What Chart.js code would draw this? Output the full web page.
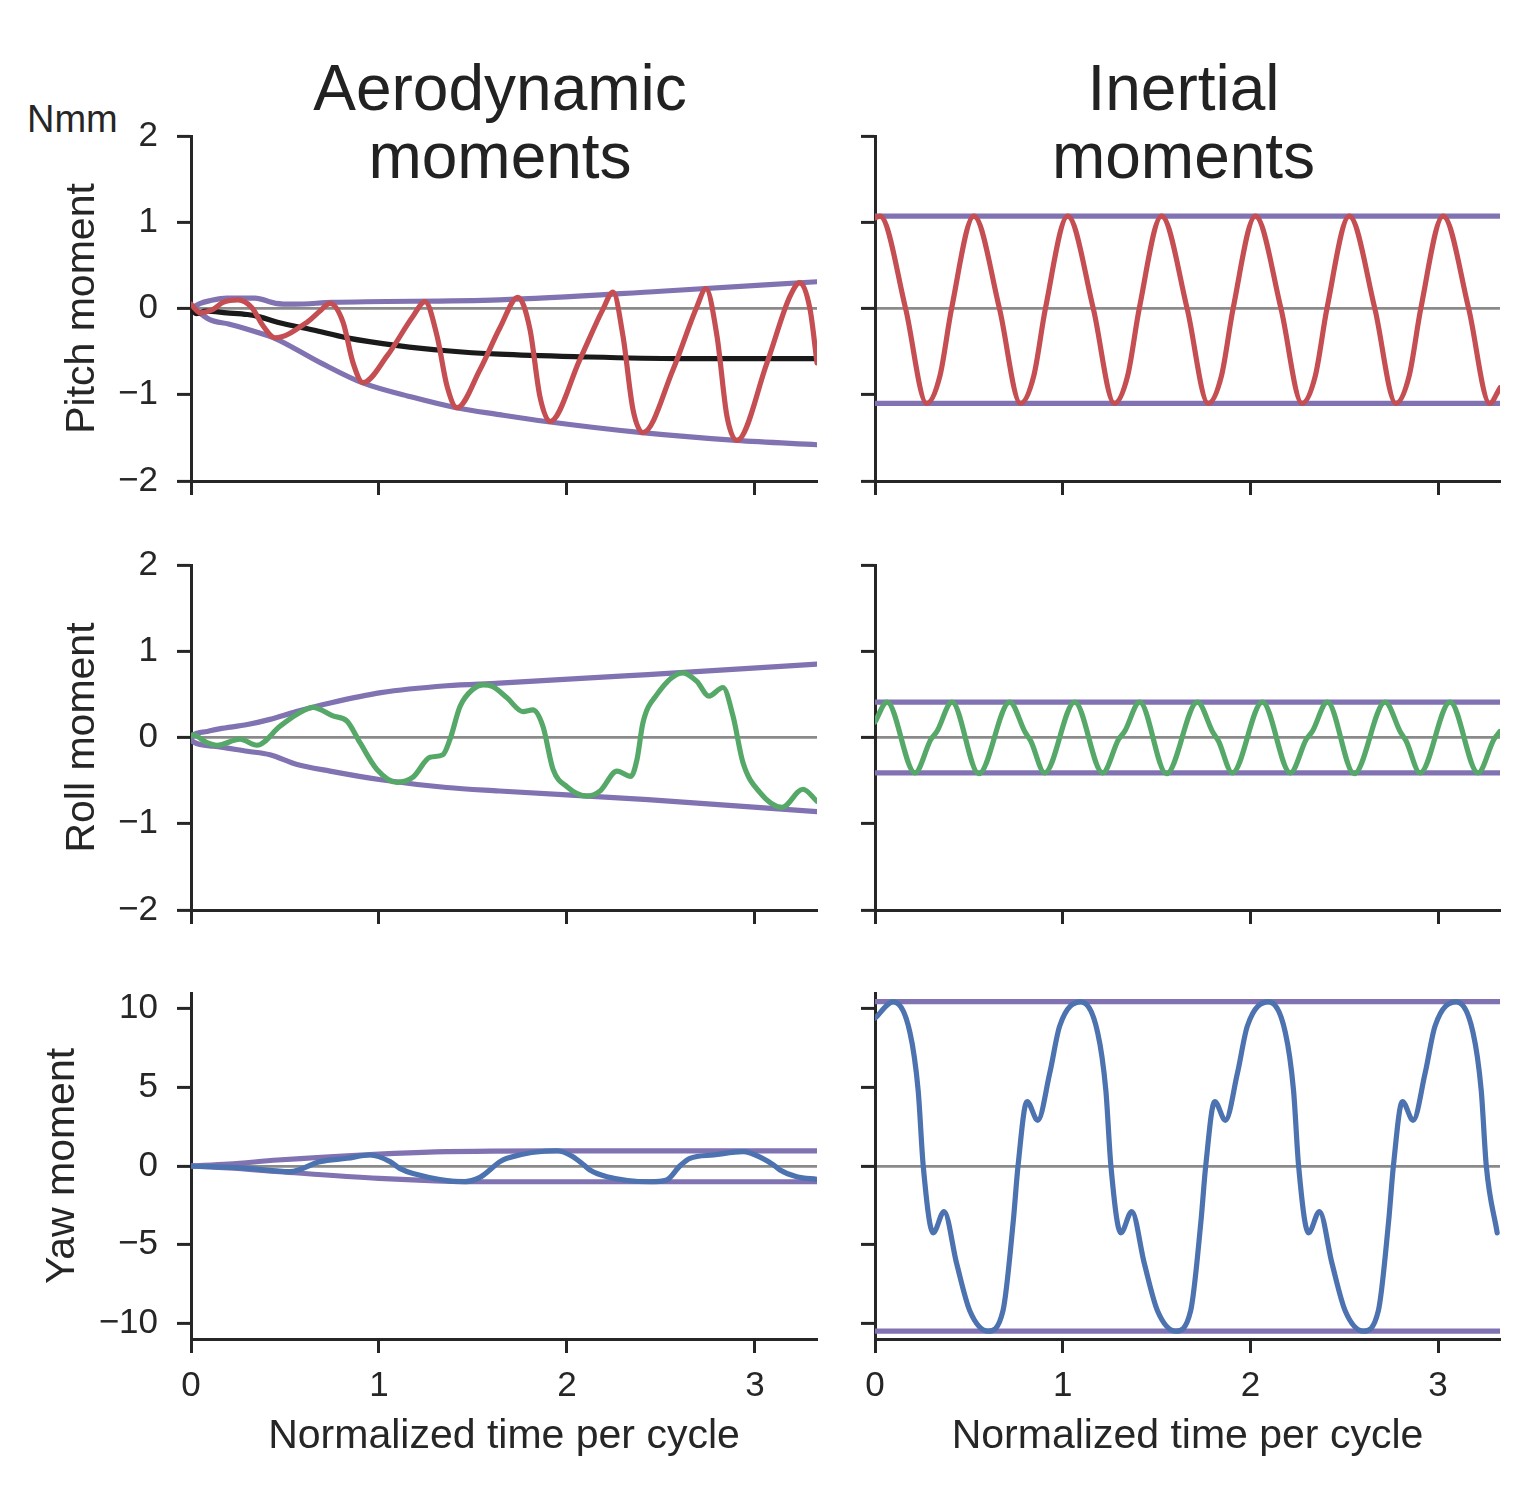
<!DOCTYPE html>
<html><head><meta charset="utf-8">
<script src="https://cdn.jsdelivr.net/npm/chart.js@4.4.1/dist/chart.umd.min.js"></script>
<style>
body{margin:0;background:#fff;width:1522px;height:1488px;position:relative;overflow:hidden;font-family:"Liberation Sans",Arial,sans-serif;color:#222}
canvas{position:absolute}
.ttl{position:absolute;text-align:center;font-size:64px;line-height:68px;white-space:nowrap}
</style></head><body>
<div class="ttl" style="left:187px;width:626px;top:54px">Aerodynamic<br>moments</div>
<div class="ttl" style="left:871px;width:625px;top:54px">Inertial<br>moments</div>
<div style="position:absolute;left:27px;top:100px;font-size:38px;line-height:38px;color:#262626">Nmm</div>
<canvas id="p00" width="840" height="410" style="left:0;top:110px"></canvas>
<canvas id="p01" width="682" height="410" style="left:840px;top:110px"></canvas>
<canvas id="p10" width="840" height="400" style="left:0;top:540px"></canvas>
<canvas id="p11" width="682" height="400" style="left:840px;top:540px"></canvas>
<canvas id="p20" width="840" height="520" style="left:0;top:968px"></canvas>
<canvas id="p21" width="682" height="520" style="left:840px;top:968px"></canvas>
<script>
// ---- axes / labels ----
const X_TICKS = [0, 1, 2, 3];
const X_RANGE = [0, 3.33];
const PITCH_TICKS = [-2, -1, 0, 1, 2];
const ROLL_TICKS = [-2, -1, 0, 1, 2];
const YAW_TICKS = [-10, -5, 0, 5, 10];
const PITCH_RANGE = [-2, 2];
const ROLL_RANGE = [-2, 2];
const YAW_RANGE = [-11, 11];
const ROW_LABELS = ['Pitch moment', 'Roll moment', 'Yaw moment'];
const X_LABEL = 'Normalized time per cycle';

// ---- Aerodynamic pitch ----  [t, value]
const aeroPitch = [[0,0.05],[0.048,-0.05],[0.117,-0.01],[0.17,0.07],[0.25,0.1],[0.324,0.01],[0.383,-0.2],[0.447,-0.34],[0.617,-0.16],[0.686,-0.03],[0.739,0.06],[0.809,-0.16],[0.862,-0.63],[0.915,-0.86],[1.043,-0.55],[1.181,-0.09],[1.245,0.08],[1.309,-0.32],[1.362,-0.9],[1.415,-1.15],[1.537,-0.71],[1.644,-0.22],[1.739,0.13],[1.803,-0.24],[1.856,-1.02],[1.91,-1.31],[2.069,-0.59],[2.191,-0.01],[2.245,0.19],[2.298,-0.32],[2.351,-1.17],[2.404,-1.44],[2.564,-0.71],[2.691,0.02],[2.739,0.23],[2.798,-0.32],[2.851,-1.25],[2.904,-1.53],[3.064,-0.63],[3.186,0.14],[3.239,0.3],[3.293,-0.01],[3.33,-0.63]];
const aeroPitchMean = [[0,0],[0.03,-0.06],[0.08,-0.03],[0.19,-0.05],[0.3,-0.07],[0.37,-0.1],[0.46,-0.16],[0.65,-0.25],[0.83,-0.34],[1.1,-0.43],[1.36,-0.49],[1.64,-0.53],[2.07,-0.56],[2.6,-0.58],[3.33,-0.58]];
const aeroPitchUpper = [[0,0],[0.05,0.06],[0.1,0.09],[0.19,0.12],[0.34,0.12],[0.45,0.06],[0.55,0.05],[0.75,0.07],[1.64,0.1],[2.5,0.2],[3.33,0.31]];
const aeroPitchLower = [[0,0.03],[0.1,-0.13],[0.2,-0.18],[0.3,-0.24],[0.44,-0.34],[0.69,-0.63],[0.91,-0.86],[1.18,-1.03],[1.41,-1.15],[1.64,-1.23],[1.89,-1.31],[2.4,-1.44],[2.9,-1.53],[3.33,-1.58]];

// ---- Inertial pitch ----
const inerPitch = [[0,1.05],[0.027,1.07],[0.163,0],[0.275,-1.1],[0.346,-0.78],[0.408,0],[0.527,1.07],[0.663,0],[0.775,-1.1],[0.846,-0.78],[0.908,0],[1.027,1.07],[1.163,0],[1.275,-1.1],[1.346,-0.78],[1.408,0],[1.527,1.07],[1.663,0],[1.775,-1.1],[1.846,-0.78],[1.908,0],[2.027,1.07],[2.163,0],[2.275,-1.1],[2.346,-0.78],[2.408,0],[2.527,1.07],[2.663,0],[2.775,-1.1],[2.846,-0.78],[2.908,0],[3.027,1.07],[3.163,0],[3.275,-1.1],[3.33,-0.92]];
const inerPitchUpper = [[0,1.07],[3.33,1.07]];
const inerPitchLower = [[0,-1.1],[3.33,-1.1]];

// ---- Aerodynamic roll ----
const aeroRoll = [[0,0.02],[0.011,0.03],[0.085,-0.06],[0.138,-0.09],[0.261,-0.02],[0.351,-0.09],[0.473,0.13],[0.564,0.27],[0.649,0.35],[0.755,0.25],[0.83,0.19],[0.899,-0.06],[0.989,-0.37],[1.096,-0.52],[1.181,-0.46],[1.271,-0.23],[1.34,-0.2],[1.378,-0.02],[1.431,0.36],[1.5,0.56],[1.553,0.61],[1.606,0.59],[1.681,0.46],[1.766,0.3],[1.819,0.32],[1.872,0.13],[1.926,-0.37],[2.0,-0.57],[2.106,-0.68],[2.176,-0.62],[2.266,-0.39],[2.34,-0.45],[2.372,-0.26],[2.404,0.17],[2.479,0.5],[2.617,0.75],[2.691,0.65],[2.755,0.48],[2.83,0.58],[2.883,0.25],[2.936,-0.29],[3.027,-0.64],[3.144,-0.81],[3.255,-0.6],[3.33,-0.74]];
const aeroRollUpper = [[0,0],[0.011,0.03],[0.085,0.07],[0.15,0.1],[0.3,0.15],[0.42,0.21],[0.56,0.3],[0.74,0.4],[1.01,0.52],[1.36,0.6],[1.64,0.63],[2.43,0.73],[3.33,0.85]];
const aeroRollLower = [[0,0],[0.011,-0.05],[0.12,-0.1],[0.3,-0.16],[0.42,-0.2],[0.56,-0.31],[0.74,-0.39],[1.01,-0.49],[1.36,-0.58],[1.64,-0.62],[2.43,-0.72],[3.33,-0.86]];

// ---- Inertial roll ----
const inerRoll = [[0,0.18],[0.064,0.41],[0.213,-0.41],[0.298,-0.02],[0.33,0.07],[0.41,0.41],[0.553,-0.42],[0.718,0.41],[0.8,0.06],[0.83,-0.04],[0.904,-0.41],[1.064,0.41],[1.213,-0.41],[1.298,-0.02],[1.33,0.07],[1.41,0.41],[1.553,-0.42],[1.718,0.41],[1.8,0.06],[1.83,-0.04],[1.904,-0.41],[2.064,0.41],[2.213,-0.41],[2.298,-0.02],[2.33,0.07],[2.41,0.41],[2.553,-0.42],[2.718,0.41],[2.8,0.06],[2.83,-0.04],[2.904,-0.41],[3.064,0.41],[3.213,-0.41],[3.298,-0.02],[3.33,0.07]];
const inerRollUpper = [[0,0.41],[3.33,0.41]];
const inerRollLower = [[0,-0.41],[3.33,-0.41]];

// ---- Aerodynamic yaw ----
const aeroYaw = [[0,0],[0.3,-0.15],[0.527,-0.36],[0.686,0.28],[0.83,0.49],[0.952,0.7],[1.059,0.28],[1.11,-0.15],[1.181,-0.47],[1.447,-1.0],[1.537,-0.72],[1.644,0.28],[1.681,0.49],[1.947,0.97],[2.03,0.6],[2.09,0.06],[2.122,-0.25],[2.213,-0.68],[2.441,-1.0],[2.53,-0.89],[2.6,0],[2.654,0.49],[2.78,0.7],[2.936,0.91],[3.04,0.49],[3.1,0.06],[3.133,-0.25],[3.223,-0.68],[3.33,-0.85]];
const aeroYawUpper = [[0,0],[0.2,0.12],[0.46,0.38],[1.0,0.76],[1.3,0.9],[1.6,0.95],[2.0,0.96],[3.33,0.96]];
const aeroYawLower = [[0,0],[0.2,-0.12],[0.47,-0.36],[1.0,-0.79],[1.3,-0.94],[1.6,-1.0],[2.0,-1.0],[3.33,-1.0]];

// ---- Inertial yaw ----
const inerYaw = [[0,9.4],[0.097,10.43],[0.186,8.5],[0.23,4.8],[0.257,0],[0.31,-4.25],[0.368,-2.9],[0.435,-6.2],[0.505,-9.2],[0.603,-10.5],[0.682,-9.2],[0.736,-3.6],[0.762,0],[0.81,4.1],[0.867,2.9],[0.931,5.9],[0.984,8.9],
 [1.097,10.43],[1.186,8.5],[1.23,4.8],[1.257,0],[1.31,-4.25],[1.368,-2.9],[1.435,-6.2],[1.505,-9.2],[1.603,-10.5],[1.682,-9.2],[1.736,-3.6],[1.762,0],[1.81,4.1],[1.867,2.9],[1.931,5.9],[1.984,8.9],
 [2.097,10.43],[2.186,8.5],[2.23,4.8],[2.257,0],[2.31,-4.25],[2.368,-2.9],[2.435,-6.2],[2.505,-9.2],[2.603,-10.5],[2.682,-9.2],[2.736,-3.6],[2.762,0],[2.81,4.1],[2.867,2.9],[2.931,5.9],[2.984,8.9],
 [3.097,10.43],[3.186,8.5],[3.23,4.8],[3.257,0],[3.315,-4.25]];
const inerYawUpper = [[0,10.45],[3.33,10.45]];
const inerYawLower = [[0,-10.5],[3.33,-10.5]];

// ---- styling ----
const FONT = '"Liberation Sans", Arial, sans-serif';
const INK = '#262626';
const RED = '#c44e52', GREEN = '#55a868', BLUE = '#4c72b0', PURPLE = '#8172b2', BLACK = '#1a1a1a';
const fmt = v => v < 0 ? '\u2212' + Math.abs(v) : String(v);
const pts = arr => arr.map(p => ({x: p[0], y: p[1]}));

function ds(arr, color, order) {
  return {data: pts(arr), borderColor: color, borderWidth: 5.2, pointRadius: 0, order: order,
          cubicInterpolationMode: 'monotone', borderJoinStyle: 'round', borderCapStyle: 'round', fill: false};
}

function panel(id, cfg) {
  const {col, row, datasets, yTicks, yRange} = cfg;
  const yW = col === 0 ? 191 : 35;
  const padR = col === 0 ? 23 : 22;
  const padT = [26, 25, 25][row];
  const xH = [39, 30, 149][row];
  const showXLabels = row === 2;
  const showYLabels = col === 0;
  new Chart(document.getElementById(id), {
    type: 'line',
    data: {datasets: datasets},
    options: {
      responsive: false, animation: false, devicePixelRatio: 1,
      layout: {padding: {left: 0, right: padR, top: padT, bottom: 0}},
      plugins: {legend: {display: false}, tooltip: {enabled: false}},
      scales: {
        x: {
          type: 'linear', min: X_RANGE[0], max: X_RANGE[1],
          afterBuildTicks: s => { s.ticks = X_TICKS.map(v => ({value: v})); },
          afterFit: s => { s.height = xH; s.paddingLeft = 0; s.paddingRight = 0; s.paddingTop = 0; s.paddingBottom = 0; },
          ticks: {autoSkip: false, maxRotation: 0, padding: 16, color: INK,
                  font: {family: FONT, size: 35, lineHeight: 1},
                  callback: v => showXLabels ? fmt(v) : ''},
          grid: {drawOnChartArea: false, drawTicks: true, tickLength: 14, tickWidth: 3, tickColor: INK},
          border: {display: true, color: INK, width: 3},
          title: {display: showXLabels, text: X_LABEL, color: INK,
                  font: {family: FONT, size: 41, lineHeight: 1}, padding: {top: 0, bottom: 31}}
        },
        y: {
          type: 'linear', min: yRange[0], max: yRange[1],
          afterBuildTicks: s => { s.ticks = yTicks.map(v => ({value: v})); },
          afterFit: s => { s.width = yW; s.paddingLeft = 0; s.paddingRight = 0; s.paddingTop = 0; s.paddingBottom = 0; },
          ticks: {autoSkip: false, padding: 19, color: INK,
                  font: {family: FONT, size: 35, lineHeight: 1},
                  callback: v => showYLabels ? fmt(v) : ''},
          grid: {drawOnChartArea: true, drawTicks: true, tickLength: 14, tickWidth: 3, tickColor: INK,
                 lineWidth: 2.8, color: c => (c.tick && c.tick.value === 0) ? '#8a8a8a' : 'rgba(0,0,0,0)'},
          border: {display: true, color: INK, width: 3},
          title: {display: showYLabels, text: ROW_LABELS[row], color: INK,
                  font: {family: FONT, size: 41, lineHeight: 1},
                  padding: {top: row === 2 ? 42 : 62, bottom: 0}}
        }
      }
    }
  });
}

panel('p00', {col: 0, row: 0, yTicks: PITCH_TICKS, yRange: PITCH_RANGE, datasets: [
  ds(aeroPitchUpper, PURPLE, 3), ds(aeroPitchLower, PURPLE, 3), ds(aeroPitchMean, BLACK, 2), ds(aeroPitch, RED, 1)]});
panel('p01', {col: 1, row: 0, yTicks: PITCH_TICKS, yRange: PITCH_RANGE, datasets: [
  ds(inerPitchUpper, PURPLE, 3), ds(inerPitchLower, PURPLE, 3), ds(inerPitch, RED, 1)]});
panel('p10', {col: 0, row: 1, yTicks: ROLL_TICKS, yRange: ROLL_RANGE, datasets: [
  ds(aeroRollUpper, PURPLE, 3), ds(aeroRollLower, PURPLE, 3), ds(aeroRoll, GREEN, 1)]});
panel('p11', {col: 1, row: 1, yTicks: ROLL_TICKS, yRange: ROLL_RANGE, datasets: [
  ds(inerRollUpper, PURPLE, 3), ds(inerRollLower, PURPLE, 3), ds(inerRoll, GREEN, 1)]});
panel('p20', {col: 0, row: 2, yTicks: YAW_TICKS, yRange: YAW_RANGE, datasets: [
  ds(aeroYawUpper, PURPLE, 3), ds(aeroYawLower, PURPLE, 3), ds(aeroYaw, BLUE, 1)]});
panel('p21', {col: 1, row: 2, yTicks: YAW_TICKS, yRange: YAW_RANGE, datasets: [
  ds(inerYawUpper, PURPLE, 3), ds(inerYawLower, PURPLE, 3), ds(inerYaw, BLUE, 1)]});
</script>
</body></html>
